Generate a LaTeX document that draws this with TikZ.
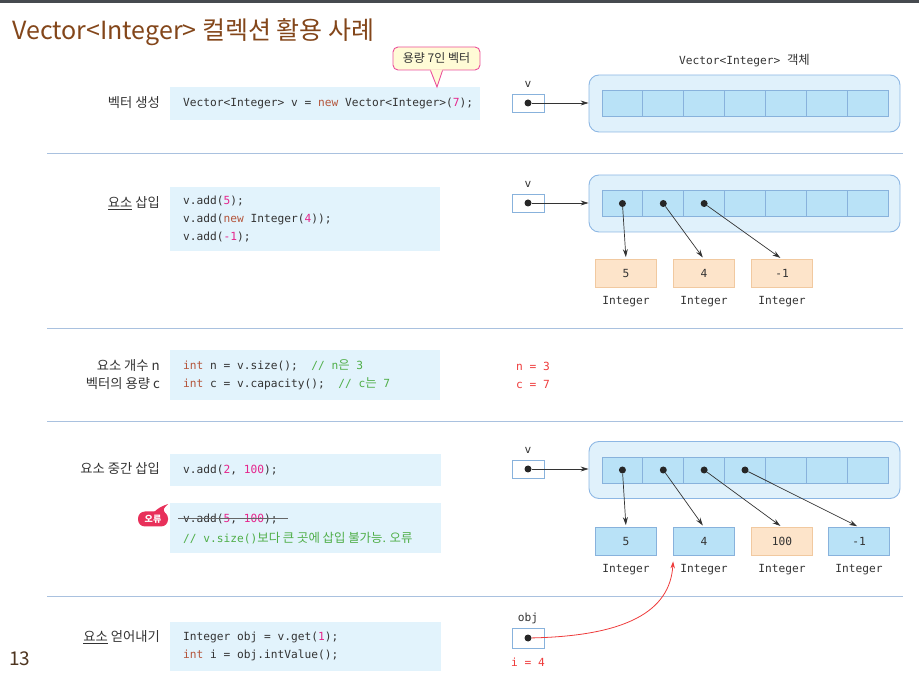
\documentclass[tikz,border=0pt]{standalone}
\usepackage{fontspec}
\setmainfont{Noto Sans CJK KR}
\setmonofont{DejaVu Sans Mono}
\newfontfamily\kr{Noto Sans CJK KR}
\usetikzlibrary{positioning,arrows.meta,calc}

\definecolor{topbar}{HTML}{464A4F}
\definecolor{titlebrown}{HTML}{83461A}
\definecolor{pagebrown}{HTML}{4E3520}
\definecolor{txt}{HTML}{333333}
\definecolor{codebg}{HTML}{E2F3FC}
\definecolor{objbg}{HTML}{E0F1FB}
\definecolor{objline}{HTML}{8DB7E4}
\definecolor{cellbg}{HTML}{B9E2F7}
\definecolor{cellline}{HTML}{88B2DC}
\definecolor{peach}{HTML}{FDE4CA}
\definecolor{peachline}{HTML}{F1C9A0}
\definecolor{sepline}{HTML}{A9C1DF}
\definecolor{kwred}{HTML}{B4553B}
\definecolor{litpink}{HTML}{E5258C}
\definecolor{cmtgreen}{HTML}{4FAE48}
\definecolor{resred}{HTML}{EE3B3B}
\definecolor{capbg}{HTML}{FFFBD6}
\definecolor{capline}{HTML}{EB4F9A}
\definecolor{errred}{HTML}{E8305A}

\newcommand{\codefont}{\fontsize{11.2}{18}\selectfont\ttfamily}
\newcommand{\lblfont}{\fontsize{13.3}{18}\selectfont}
\newcommand{\kcode}{\kr\fontsize{12.4}{18}\selectfont}
\newcommand{\kw}[1]{\textcolor{kwred}{#1}}
\newcommand{\lit}[1]{\textcolor{litpink}{#1}}
\newcommand{\cmt}[1]{\textcolor{cmtgreen}{#1}}

\tikzset{
  sep/.style={draw=sepline, line width=0.8pt},
  codebox/.style={fill=codebg, anchor=west, inner sep=0pt},
  code/.style={font=\codefont, anchor=west, inner sep=0pt, align=left},
  lbl/.style={anchor=east, font=\lblfont, align=right, inner sep=0pt},
  objbox/.style={draw=objline, fill=objbg, line width=0.9pt, rounded corners=10pt, minimum width=311pt, minimum height=57pt},
  cell/.style={draw=cellline, fill=cellbg, line width=0.8pt, inner sep=0pt, minimum width=40.86pt, minimum height=26pt},
  refbox/.style={draw=cellline, fill=white, line width=0.8pt, inner sep=0pt, minimum width=32pt, minimum height=18pt},
  dot/.style={circle, fill=black!85, inner sep=0pt, minimum size=7pt},
  ptr/.style={draw=black!80, line width=0.7pt, -{Stealth[length=8pt,width=5pt]}},
  redptr/.style={draw=resred, line width=0.8pt, -{Stealth[length=7pt,width=4.5pt]}},
  intbox/.style={line width=0.8pt, minimum width=61pt, minimum height=28pt, inner sep=0pt, font=\codefont},
  intname/.style={font=\codefont, inner sep=0pt},
  reflbl/.style={font=\codefont, inner sep=0pt},
  result/.style={font=\codefont, text=resred, anchor=west, inner sep=0pt},
  strike/.style={draw=black!60, line width=1pt},
  callout/.style={draw=capline, fill=capbg, line width=0.9pt, rounded corners=5pt, minimum width=87pt, minimum height=23pt, inner sep=0pt, font=\fontsize{12}{14}\selectfont},
  errtag/.style={fill=errred, text=white, rounded corners=7pt, minimum width=30pt, minimum height=15pt, inner sep=0pt, font=\fontsize{9}{10}\selectfont\bfseries},
}

% vector object with its 7 cells
\newcommand{\vecobject}[2]{%
  \node[objbox] (#1) at (744.5,#2) {};
  \foreach \c in {1,...,7}
    \node[cell] (#1-\c) at ({602+40.86*(\c-0.5)},#2) {};
}

\begin{document}
\begin{tikzpicture}[x=1pt,y=-1pt,every node/.style={text=txt}]
  \useasboundingbox (0,0) rectangle (919,700);
  \fill[topbar] (0,0) rectangle (919,3);

  % title and page number
  \node[anchor=base west, text=titlebrown, font=\fontsize{25}{28}\selectfont, inner sep=0pt] (title) at (12,40) {Vector<Integer> 컬렉션 활용 사례};
  \node[anchor=base west, text=pagebrown, font=\fontsize{19}{22}\selectfont, inner sep=0pt] (pgno) at (9,665) {13};

  % separators
  \foreach \y in {153,328,421,596}
    \draw[sep] (47,\y) -- (903,\y);

  % 1. create
  \node[lbl] (l1) at (160,103) {벡터 생성};
  \node[codebox, minimum width=310pt, minimum height=33pt] (c1) at (170,103.5) {};
  \node[code] (c1t) at ([xshift=13pt]c1.west) {Vector<Integer> v = \kw{new} Vector<Integer>(\lit{7});};
  \node[callout] (cap) at (436.5,58.5) {용량 7인 벡터};
  \coordinate (captip) at (437,87);
  \fill[capbg] ([xshift=-6pt,yshift=1pt]cap.south) -- (captip) -- ([xshift=6pt,yshift=1pt]cap.south) -- cycle;
  \draw[capline, line width=0.9pt] ([xshift=-6pt]cap.south) -- (captip) -- ([xshift=6pt]cap.south);

  \vecobject{o1}{103.5}
  \node[font=\codefont, above=4pt of o1] (o1name) {Vector<Integer> {\kcode 객체}};
  \node[refbox] (r1) at (528,103) {};
  \node[dot] (r1d) at (r1) {};
  \node[reflbl, above=6pt of r1] (v1) {v};
  \draw[ptr] (r1d) -- (r1d -| o1.west);

  % 2. add
  \node[lbl] (l2) at (160,203) {\underline{요소} 삽입};
  \node[codebox, minimum width=270pt, minimum height=64pt] (c2) at (170,219) {};
  \node[code] (c2t) at ([xshift=13pt]c2.west)
    {v.add(\lit{5});\\v.add(\kw{new} Integer(\lit{4}));\\v.add(\lit{-1});};

  \vecobject{o2}{203.5}
  \node[refbox] (r2) at (528,203) {};
  \node[dot] (r2d) at (r2) {};
  \node[reflbl, above=6pt of r2] (v2) {v};
  \draw[ptr] (r2d) -- (r2d -| o2.west);
  \foreach \i/\x/\val in {1/626/5, 2/704/4, 3/782/-1} {
    \node[intbox, draw=peachline, fill=peach] (n2-\i) at (\x,273.5) {\val};
    \node[intname, below=8pt of n2-\i] (t2-\i) {Integer};
    \node[dot] (p2-\i) at (o2-\i) {};
    \draw[ptr, shorten >=2pt] (p2-\i) -- (n2-\i.north);
  }

  % 3. size and capacity
  \node[lbl] (l3) at (160,375) {요소 개수 n\\벡터의 용량 c};
  \node[codebox, minimum width=270pt, minimum height=50pt] (c3) at (170,375) {};
  \node[code] (c3t) at ([xshift=13pt]c3.west)
    {\kw{int} n = v.size();\ \ \cmt{// n{\kcode 은} 3}\\\kw{int} c = v.capacity();\ \ \cmt{// c{\kcode 는} 7}};
  \node[result] (res-n) at (516,366) {n = 3};
  \node[result] (res-c) at (516,384) {c = 7};

  % 4. insert
  \node[lbl] (l4) at (160,469) {요소 중간 삽입};
  \node[codebox, minimum width=271pt, minimum height=32pt] (c4) at (170,470) {};
  \node[code] (c4t) at ([xshift=13pt]c4.west) {v.add(\lit{2}, \lit{100});};
  \node[codebox, minimum width=271pt, minimum height=50pt] (c5) at (170,528) {};
  \node[code] (bad) at (183,519) {v.add(\lit{5}, \lit{100});};
  \draw[strike] ([xshift=-5pt]bad.west) -- ([xshift=10pt]bad.east);
  \node[code] (why) at (183,538) {\cmt{// v.size(){\kcode 보다 큰 곳에 삽입 불가능. 오류}}};
  \fill[errred] (154,512) .. controls (160,507) .. (168,504) .. controls (163,509) .. (165,513) -- cycle;
  \node[errtag] (err) at (153,519) {오류};

  \vecobject{o4}{470}
  \node[refbox] (r4) at (528,469) {};
  \node[dot] (r4d) at (r4) {};
  \node[reflbl, above=6pt of r4] (v4) {v};
  \draw[ptr] (r4d) -- (r4d -| o4.west);
  \foreach \i/\x/\val/\fc/\dc in {1/626/5/cellbg/cellline, 2/704/4/cellbg/cellline, 3/782/100/peach/peachline, 4/859/-1/cellbg/cellline} {
    \node[intbox, draw=\dc, fill=\fc] (n4-\i) at (\x,541.5) {\val};
    \node[intname, below=8pt of n4-\i] (t4-\i) {Integer};
    \node[dot] (p4-\i) at (o4-\i) {};
    \draw[ptr, shorten >=2pt] (p4-\i) -- (n4-\i.north);
  }

  % 5. get
  \node[lbl] (l5) at (160,637) {\underline{요소} 얻어내기};
  \node[codebox, minimum width=271pt, minimum height=49pt] (c6) at (170,646.5) {};
  \node[code] (c6t) at ([xshift=13pt]c6.west)
    {Integer obj = v.get(\lit{1});\\\kw{int} i = obj.intValue();};
  \node[refbox, minimum height=20pt] (r5) at (528,638) {};
  \node[dot] (r5d) at (r5) {};
  \node[reflbl, above=4pt of r5] (objname) {obj};
  \node[font=\codefont, text=resred, inner sep=0pt, below=9pt of r5] (ival) {i = 4};
  \coordinate (tip4) at ([yshift=-5.5pt]n4-2.south west);
  \draw[redptr] (r5d) .. controls (625,636) and (670,612) .. (tip4);
\end{tikzpicture}
\end{document}
